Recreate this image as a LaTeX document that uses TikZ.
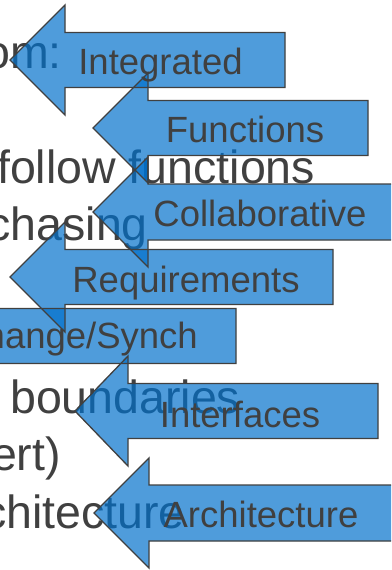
\documentclass[tikz,border=0pt]{standalone}
\usepackage{fontspec}
\setmainfont{Liberation Sans}
\definecolor{txtgray}{HTML}{404040}
\definecolor{arrblue}{RGB}{0,112,204}
\newcommand\arrowpath[6]{(#1,#2) -- (#3,#2-#4) -- (#3,#2-#5) -- (#6,#2-#5) -- (#6,#2+#5) -- (#3,#2+#5) -- (#3,#2+#4) -- cycle}
\tikzset{
  bgtext/.style={font=\fontsize{46.5}{50}\selectfont, text=txtgray, inner sep=0pt, anchor=base east},
  lbl/.style={font=\fontsize{36.5}{40}\selectfont, text=txtgray, inner sep=0pt, anchor=base},
  arrfill/.style={fill=arrblue, fill opacity=0.69, draw=none},
  arredge/.style={draw=txtgray, line width=1.3pt, line join=miter},
}
\begin{document}
\begin{tikzpicture}[x=1pt,y=-1pt]
\useasboundingbox (0,0) rectangle (391,570);
\clip (0,0) rectangle (391,570);
\fill[white] (0,0) rectangle (391,570);
% background slide text
\node[bgtext] (t1) at (62,68) {om:};
\node[bgtext, anchor=base west] (t2) at (-3,183) {follow functions};
\node[bgtext] (t3) at (148,240) {chasing};
\node[bgtext, anchor=base west] (t4) at (10,413) {boundaries};
\node[bgtext] (t5) at (61,470) {ert)};
\node[bgtext] (t6) at (185,528) {chitecture};
% arrow fills
\path[arrfill] \arrowpath{10}{60}{65}{55}{27.5}{285};
\path[arrfill] \arrowpath{93}{128}{148}{55}{27.5}{368};
\path[arrfill] \arrowpath{93}{212}{148}{55}{28}{400};
\path[arrfill] \arrowpath{10}{277}{65}{55}{27.5}{333};
\path[arrfill] \arrowpath{-75}{336}{-20}{55}{27.5}{236};
\path[arrfill] \arrowpath{75}{411}{128}{55}{27.5}{378};
\path[arrfill] \arrowpath{94}{513}{149}{55}{28}{400};
% arrow outlines
\path[arredge] \arrowpath{10}{60}{65}{55}{27.5}{285};
\path[arredge] \arrowpath{93}{128}{148}{55}{27.5}{368};
\path[arredge] \arrowpath{93}{212}{148}{55}{28}{400};
\path[arredge] \arrowpath{10}{277}{65}{55}{27.5}{333};
\path[arredge] \arrowpath{-75}{336}{-20}{55}{27.5}{236};
\path[arredge] \arrowpath{75}{411}{128}{55}{27.5}{378};
\path[arredge] \arrowpath{94}{513}{149}{55}{28}{400};
% labels
\node[lbl] (l1) at (160.5,74) {Integrated};
\node[lbl] (l2) at (245,142) {Functions};
\node[lbl] (l3) at (260,226) {Collaborative};
\node[lbl] (l4) at (186,292) {Requirements};
\node[lbl, anchor=base east] (l5) at (198,348) {Exchange/Synch};
\node[lbl] (l6) at (240,427) {Interfaces};
\node[lbl] (l7) at (261,527) {Architecture};
\end{tikzpicture}
\end{document}
